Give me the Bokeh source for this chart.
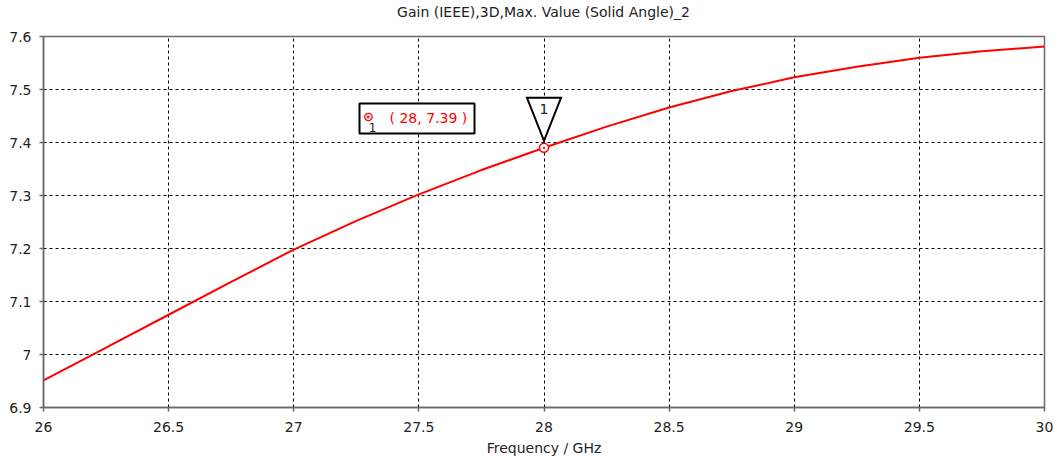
from bokeh.plotting import figure
from bokeh.models import Range1d, Label, BoxAnnotation, Div
from bokeh.layouts import column
from bokeh.core.properties import value
from bokeh.embed import file_html
from bokeh.resources import INLINE

# ---- data ----
freq = [26.0, 26.25, 26.5, 26.75, 27.0, 27.25, 27.5, 27.75, 28.0,
        28.25, 28.5, 28.75, 29.0, 29.25, 29.5, 29.75, 30.0]
gain = [6.951, 7.013, 7.075, 7.137, 7.198, 7.252, 7.302, 7.348, 7.390,
        7.430, 7.466, 7.497, 7.523, 7.543, 7.560, 7.572, 7.581]

x_ticks = [26.0, 26.5, 27.0, 27.5, 28.0, 28.5, 29.0, 29.5, 30.0]
x_tick_labels = ["26", "26.5", "27", "27.5", "28", "28.5", "29", "29.5", "30"]
y_ticks = [6.9, 7.0, 7.1, 7.2, 7.3, 7.4, 7.5, 7.6]
y_tick_labels = ["6.9", "7", "7.1", "7.2", "7.3", "7.4", "7.5", "7.6"]

marker_x = 28.0
marker_y = 7.39
marker_id = "1"

title_text = "Gain (IEEE),3D,Max. Value (Solid Angle)_2"
x_label = "Frequency / GHz"

# ---- layout ----
W, H_TOTAL = 1057, 459
TITLE_H = 24
H = H_TOTAL - TITLE_H
BL, BR, BT, BB = 43, 13, 36 - TITLE_H, 52
FRAME_W = W - BL - BR
FRAME_H = H - BT - BB
x0, x1 = x_ticks[0], x_ticks[-1]
y0, y1 = y_ticks[0], y_ticks[-1]
xpp = (x1 - x0) / FRAME_W
ypp = (y1 - y0) / FRAME_H

FONT = "DejaVu Sans"
GRAY = "#6a6a6a"
RED = "#ff0000"
TXT = "#222222"

title_div = Div(
    text=title_text, width=W, height=TITLE_H, margin=0,
    styles={"font-family": FONT, "font-size": "14px", "color": TXT,
            "line-height": f"{TITLE_H}px", "text-align": "center",
            "padding-left": f"{BL - BR}px", "box-sizing": "border-box",
            "width": f"{W}px", "white-space": "nowrap"})

p = figure(width=W, height=H, output_backend="svg", toolbar_location=None,
           x_range=Range1d(x0, x1), y_range=Range1d(y0, y1),
           min_border_left=BL, min_border_right=BR, min_border_top=BT,
           min_border_bottom=BB, background_fill_color="white",
           border_fill_color="white", margin=0)

p.outline_line_color = GRAY
p.outline_line_width = 1.5

for ax in (p.xaxis, p.yaxis):
    ax.axis_line_color = GRAY
    ax.axis_line_width = 1.5
    ax.major_tick_line_color = GRAY
    ax.major_tick_line_width = 1.5
    ax.major_tick_out = 4
    ax.major_tick_in = 0
    ax.minor_tick_line_color = None
    ax.major_label_text_font = FONT
    ax.major_label_text_font_size = "14px"
    ax.major_label_text_color = TXT

p.xaxis.ticker = x_ticks
p.yaxis.ticker = y_ticks
p.xaxis.major_label_overrides = dict(zip(x_ticks, x_tick_labels))
p.yaxis.major_label_overrides = dict(zip(y_ticks, y_tick_labels))
p.xaxis.major_label_standoff = 10
p.yaxis.major_label_standoff = 8

p.xaxis.axis_label = x_label
p.xaxis.axis_label_text_font = FONT
p.xaxis.axis_label_text_font_size = "14px"
p.xaxis.axis_label_text_font_style = "normal"
p.xaxis.axis_label_text_color = TXT
p.xaxis.axis_label_standoff = 5

for g in (p.xgrid, p.ygrid):
    g.grid_line_color = "black"
    g.grid_line_dash = "3 3"
    g.grid_line_width = 1

# curve
p.line(freq, gain, line_color=RED, line_width=2)

# marker on curve
p.scatter([marker_x], [marker_y], marker="circle_dot", size=9,
          line_color=RED, fill_color="white", line_width=1.5)

# triangle flag above marker
tri_x = [marker_x - 17 * xpp, marker_x + 17 * xpp, marker_x]
tri_y = [marker_y + 50 * ypp, marker_y + 50 * ypp, marker_y + 7 * ypp]
p.patch(tri_x, tri_y, fill_color="white", line_color="black", line_width=2,
        line_join="miter")
p.text([marker_x], [marker_y + 39 * ypp], text=[marker_id],
       text_align="center", text_baseline="middle",
       text_font=value(FONT), text_font_size="14px", text_color="#1a1a3a")

# marker readout box (screen units, relative to frame)
box = BoxAnnotation(left=316, right=431, top=304, bottom=274,
                    left_units="screen", right_units="screen",
                    top_units="screen", bottom_units="screen",
                    fill_color="white", fill_alpha=1.0,
                    line_color="black", line_alpha=1.0, line_width=2)
p.add_layout(box)
p.add_layout(Label(x=325, y=291, x_units="screen", y_units="screen",
                   text="\u2299", text_align="center", text_baseline="middle",
                   text_font=FONT, text_font_size="13px", text_color=RED,
                   text_font_style="bold"))
p.add_layout(Label(x=329, y=280, x_units="screen", y_units="screen",
                   text=marker_id, text_align="center", text_baseline="middle",
                   text_font=FONT, text_font_size="12px", text_color="#1a1a3a"))
p.add_layout(Label(x=346, y=290, x_units="screen", y_units="screen",
                   text=f"( {marker_x:g}, {marker_y:g} )",
                   text_align="left", text_baseline="middle",
                   text_font=FONT, text_font_size="14px", text_color=RED))

layout = column(title_div, p, spacing=0, margin=0)
open("out.html", "w").write(file_html(layout, INLINE))
